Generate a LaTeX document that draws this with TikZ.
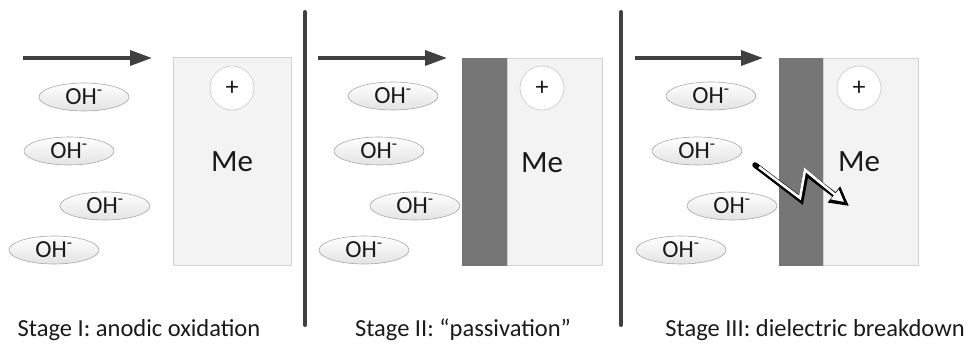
\documentclass[tikz,border=0pt]{standalone}
\usepackage{fontspec}
\setmainfont{Carlito}
\usetikzlibrary{arrows.meta,shapes.geometric}
\definecolor{darkline}{HTML}{404040}
\definecolor{band}{HTML}{767676}
\definecolor{boxfill}{HTML}{F3F3F3}
\definecolor{boxline}{HTML}{D2D2D2}
\definecolor{ionline}{HTML}{A8A8A8}
\definecolor{txt}{HTML}{1A1A1A}
\begin{document}
\begin{tikzpicture}[x=1pt,y=-1pt,
  ion/.style={ellipse, minimum width=90pt, minimum height=28pt, inner sep=0pt,
    draw=ionline, line width=0.6pt, top color=white, bottom color=gray!22,
    text=txt, font=\fontsize{24.5}{24.5}\selectfont},
  metal/.style={draw=boxline, fill=boxfill, line width=0.8pt, inner sep=0pt, anchor=north west},
  oxide/.style={fill=band, draw=band, line width=0.5pt, inner sep=0pt, anchor=north west},
  charge/.style={circle, minimum size=44pt, inner sep=0pt, draw=boxline, fill=white,
    line width=0.8pt, text=txt, font=\fontsize{26}{26}\selectfont},
  metallabel/.style={text=txt, font=\fontsize{31}{31}\selectfont},
  current/.style={draw=darkline, line width=3.5pt, -{Triangle[length=22pt,width=15pt]}},
  divider/.style={draw=darkline, line width=4pt, line cap=round},
  caption/.style={anchor=base, text=txt, font=\fontsize{24.5}{24.5}\selectfont}
]
\useasboundingbox (0,0) rectangle (970,344);

% dividers
\coordinate (d1t) at (305,12); \coordinate (d1b) at (305,325);
\coordinate (d2t) at (621,12); \coordinate (d2b) at (621,325);
\draw[divider] (d1t) -- (d1b);
\draw[divider] (d2t) -- (d2b);

% current arrows
\coordinate (a1s) at (23,58);  \coordinate (a1e) at (152,58);
\coordinate (a2s) at (318,58); \coordinate (a2e) at (447,58);
\coordinate (a3s) at (635,58); \coordinate (a3e) at (763,58);
\draw[current] (a1s) -- (a1e);
\draw[current] (a2s) -- (a2e);
\draw[current] (a3s) -- (a3e);

% Stage I
\node[metal, minimum width=118pt, minimum height=208pt] (me1) at (173,57) {};
\node[charge] (p1) at (232,88) {+};
\node[metallabel] (m1) at (232,162) {Me};
\node[ion] (i11) at (84,97) {OH\textsuperscript{-}};
\node[ion] (i12) at (69,151) {OH\textsuperscript{-}};
\node[ion] (i13) at (105,206) {OH\textsuperscript{-}};
\node[ion] (i14) at (54,250) {OH\textsuperscript{-}};

% Stage II
\node[oxide, minimum width=45pt, minimum height=207pt] (ox2) at (462,58) {};
\node[metal, minimum width=95pt, minimum height=207pt] (me2) at (507,58) {};
\node[charge] (p2) at (542,88) {+};
\node[metallabel] (m2) at (542,163) {Me};
\node[ion] (i21) at (393,96) {OH\textsuperscript{-}};
\node[ion] (i22) at (379,151) {OH\textsuperscript{-}};
\node[ion] (i23) at (415,206) {OH\textsuperscript{-}};
\node[ion] (i24) at (364,250) {OH\textsuperscript{-}};

% Stage III
\node[oxide, minimum width=44pt, minimum height=207pt] (ox3) at (779,58) {};
\node[metal, minimum width=95pt, minimum height=207pt] (me3) at (823,58) {};
\node[charge] (p3) at (859,88) {+};
\node[metallabel] (m3) at (859,162) {Me};
\node[ion] (i31) at (711,96) {OH\textsuperscript{-}};
\node[ion] (i32) at (697,151) {OH\textsuperscript{-}};
\node[ion] (i33) at (732,206) {OH\textsuperscript{-}};
\node[ion] (i34) at (681,250) {OH\textsuperscript{-}};

% breakdown bolt
\coordinate (b0) at (755,165);
\coordinate (b1) at (801,200);
\coordinate (b2) at (806,173);
\coordinate (b3) at (849,206);
\coordinate (c0) at (759,167);
\coordinate (c1) at (800,198);
\coordinate (c2) at (805,170);
\coordinate (c3) at (844,202);
\draw[black, line width=5.5pt, line join=miter, line cap=round,
  -{Triangle[length=19pt,width=19pt]}] (b0) -- (b1) -- (b2) -- (b3);
\draw[white, line width=2.6pt, line join=miter,
  -{Triangle[length=12pt,width=12pt]}] (c0) -- (c1) -- (c2) -- (c3);

% captions
\node[caption] (s1) at (139,337) {Stage I: anodic oxidation};
\node[caption] (s2) at (463,337) {Stage II: “passivation”};
\node[caption] (s3) at (815,337) {Stage III: dielectric breakdown};
\end{tikzpicture}
\end{document}
